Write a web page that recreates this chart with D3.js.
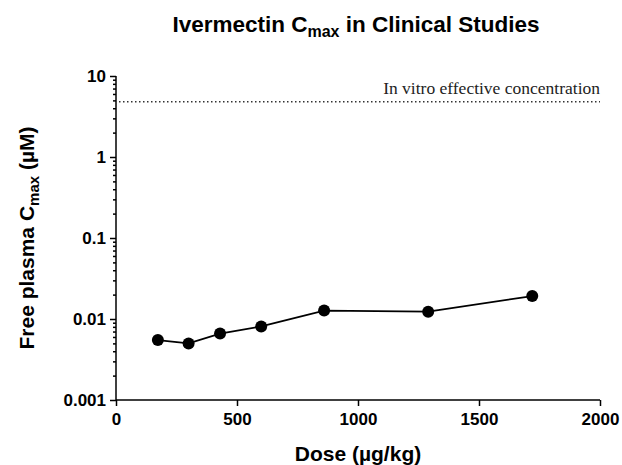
<!DOCTYPE html>
<html><head><meta charset="utf-8">
<script src="https://cdn.jsdelivr.net/npm/d3@7"></script>
<style>body{margin:0;background:#fff}</style>
</head><body>
<svg id="c" width="622" height="465"></svg>
<script>
const doses = [173, 300, 430, 600, 860, 1290, 1720];
const cmax = [0.0055, 0.0050, 0.0066, 0.0081, 0.0127, 0.0123, 0.0192];
const yTicks = [0.001, 0.01, 0.1, 1, 10];
const yTickLabels = ["0.001", "0.01", "0.1", "1", "10"];
const xTicks = [0, 500, 1000, 1500, 2000];
const effectiveConc = 4.8;
const effectiveLabel = "In vitro effective concentration";

const svg = d3.select("#c");
const font = "'Liberation Sans', Arial, sans-serif";
const x = d3.scaleLinear().domain([0, 2000]).range([116, 600]);
const y = d3.scaleLog().domain([0.001, 10]).range([400, 76]);

const minor = [];
for (let d = 0.001; d < 10; d *= 10) for (let k = 2; k <= 9; k++) minor.push(d * k);

const gy = svg.append("g").attr("transform", `translate(${x(0)},0)`);
gy.call(d3.axisLeft(y).tickValues(minor).tickSize(3).tickFormat(""));
gy.call(g => g.append("g").call(d3.axisLeft(y).tickValues(yTicks).tickSize(6)
  .tickFormat((d, i) => yTickLabels[i])));
gy.selectAll("path.domain").remove();
gy.append("line").attr("x1", 0).attr("x2", 0).attr("y1", y(10)).attr("y2", y(0.001))
  .attr("stroke", "#000").attr("stroke-width", 2);
gy.selectAll("line").attr("stroke", "#000").attr("stroke-width", 1.5);
gy.selectAll("text").attr("font-family", font).attr("font-weight", "bold")
  .attr("font-size", 17).attr("fill", "#000").attr("dx", "-1");

const gx = svg.append("g").attr("transform", `translate(0,${y(0.001)})`);
gx.call(d3.axisBottom(x).tickValues(xTicks).tickSize(6).tickFormat(d3.format("d")));
gx.select("path.domain").remove();
gx.append("line").attr("x1", x(0)).attr("x2", x(2000)).attr("y1", 0).attr("y2", 0)
  .attr("stroke", "#000").attr("stroke-width", 2);
gx.selectAll("line").attr("stroke", "#000").attr("stroke-width", 1.5);
gx.selectAll("text").attr("font-family", font).attr("font-weight", "bold")
  .attr("font-size", 17).attr("fill", "#000").attr("dy", "0.95em");

svg.append("line").attr("x1", x(0) + 3).attr("x2", x(2000)).attr("y1", y(effectiveConc)).attr("y2", y(effectiveConc))
  .attr("stroke", "#333").attr("stroke-width", 1.5).attr("stroke-dasharray", "1.5,2.5");
svg.append("text").attr("x", x(2000)).attr("y", y(effectiveConc) - 8).attr("text-anchor", "end")
  .attr("font-family", "'Liberation Serif', 'Times New Roman', serif").attr("font-size", 17.5)
  .attr("fill", "#222").text(effectiveLabel);

const data = doses.map((d, i) => ({d, v: cmax[i]}));
svg.append("path").datum(data)
  .attr("d", d3.line().x(p => x(p.d)).y(p => y(p.v)))
  .attr("fill", "none").attr("stroke", "#000").attr("stroke-width", 1.8);
svg.selectAll("circle.pt").data(data).enter().append("circle")
  .attr("cx", p => x(p.d)).attr("cy", p => y(p.v)).attr("r", 6).attr("fill", "#000");

const t = svg.append("text").attr("x", 356).attr("y", 32).attr("text-anchor", "middle")
  .attr("font-family", font).attr("font-weight", "bold").attr("font-size", 22.5).attr("fill", "#000");
t.append("tspan").text("Ivermectin C");
t.append("tspan").attr("font-size", 16).attr("dy", 5).text("max");
t.append("tspan").attr("dy", -5).text(" in Clinical Studies");

svg.append("text").attr("x", 358).attr("y", 461).attr("text-anchor", "middle")
  .attr("font-family", font).attr("font-weight", "bold").attr("font-size", 21).attr("fill", "#000")
  .text("Dose (µg/kg)");

const yl = svg.append("text").attr("transform", `translate(34,${(y(10) + y(0.001)) / 2}) rotate(-90)`)
  .attr("text-anchor", "middle").attr("font-family", font).attr("font-weight", "bold")
  .attr("font-size", 21).attr("fill", "#000");
yl.append("tspan").text("Free plasma C");
yl.append("tspan").attr("font-size", 15).attr("dy", 5).text("max");
yl.append("tspan").attr("dy", -5).text(" (µM)");
</script>
</body></html>
